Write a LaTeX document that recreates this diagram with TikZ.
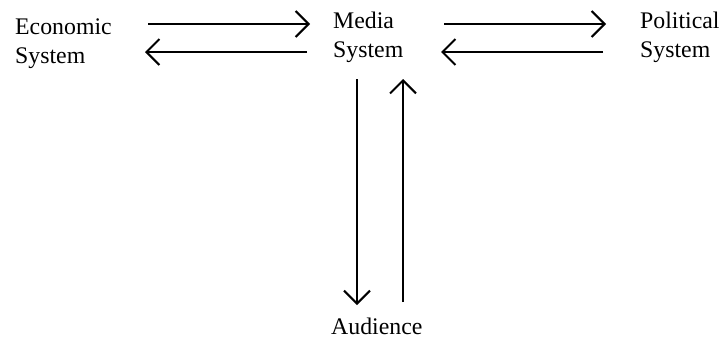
\documentclass[tikz,border=0pt]{standalone}
\usepackage{fontspec}
\setmainfont{Liberation Serif}
\usetikzlibrary{arrows.meta}
\begin{document}
\begin{tikzpicture}[x=1pt,y=-1pt,
  lbl/.style={anchor=base west,inner sep=0pt,font=\fontsize{23.8}{29}\selectfont},
  arr/.style={line width=2pt,-{Straight Barb[length=13pt,width=26pt,line width=2pt]}}]
\useasboundingbox (0,0) rectangle (719,338);
% labels
\node[lbl] (eco1) at (15,34) {Economic};
\node[lbl] (eco2) at (15,63) {System};
\node[lbl] (med1) at (333,28) {Media};
\node[lbl] (med2) at (333,57) {System};
\node[lbl] (pol1) at (640,28) {Political};
\node[lbl] (pol2) at (640,57) {System};
\node[lbl] (aud) at (331,334) {Audience};
% arrow end points
\coordinate (em1) at (148,24); \coordinate (em2) at (310,24);
\coordinate (me1) at (307,52); \coordinate (me2) at (145,52);
\coordinate (mp1) at (444,24); \coordinate (mp2) at (606,24);
\coordinate (pm1) at (603,52); \coordinate (pm2) at (441,52);
\coordinate (ma1) at (357,79); \coordinate (ma2) at (357,305);
\coordinate (am1) at (403,302); \coordinate (am2) at (403,79);
\draw[arr] (em1) -- (em2);
\draw[arr] (me1) -- (me2);
\draw[arr] (mp1) -- (mp2);
\draw[arr] (pm1) -- (pm2);
\draw[arr] (ma1) -- (ma2);
\draw[arr] (am1) -- (am2);
\end{tikzpicture}
\end{document}
